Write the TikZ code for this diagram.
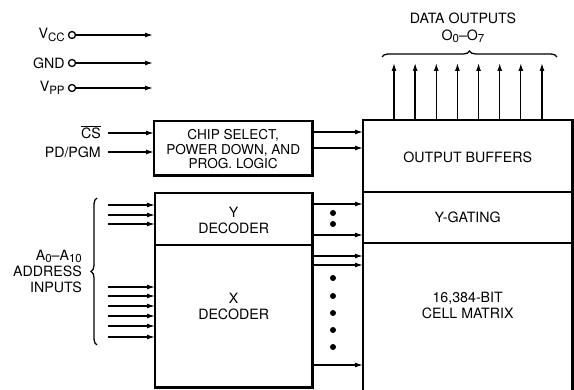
\documentclass[tikz,border=0pt]{standalone}
\usepackage{fontspec}
\setmainfont{TeX Gyre Heros}
\usetikzlibrary{arrows.meta,positioning,decorations.pathreplacing}
\newcommand{\lowsub}[1]{\raisebox{-2.5pt}{\fontsize{11.5}{12}\selectfont #1}}
\tikzstyle{blk}=[rectangle,inner sep=0pt,anchor=north west]
\tikzstyle{txt}=[inner sep=0pt,align=center]
\tikzstyle{lbl}=[inner sep=0pt,align=right,anchor=east]
\tikzstyle{frame}=[line width=2.3pt]
\tikzstyle{arr}=[-{Latex[length=8pt,width=5pt]},line width=1.3pt]
\tikzstyle{pinc}=[circle,draw,line width=1.3pt,inner sep=0pt,minimum size=7pt]
\tikzstyle{dotc}=[circle,fill,inner sep=0pt,minimum size=6pt]
\tikzstyle{brc}=[decorate,decoration={brace,amplitude=6pt},line width=1.3pt]

\begin{document}
\begin{tikzpicture}[x=1pt,y=-1pt,font=\fontsize{14.2}{16}\selectfont]
\useasboundingbox (0,0) rectangle (574,390);
% blocks
\node[blk,minimum width=209pt,minimum height=72pt] (outbuf) at (363,120) {};
\node[blk,minimum width=209pt,minimum height=51pt] (ygate) at (363,192) {};
\node[blk,minimum width=209pt,minimum height=157pt] (matrix) at (363,243) {};
\node[blk,minimum width=157pt,minimum height=52pt] (ydec) at (155,193) {};
\node[blk,minimum width=157pt,minimum height=142pt] (xdec) at (155,245) {};
\node[blk,minimum width=158pt,minimum height=54pt] (csl) at (154,121) {};
\draw[frame] (outbuf.north west) rectangle (matrix.south east);
\draw[line width=1.3pt] (ygate.north west) -- (ygate.north east);
\draw[line width=1.3pt] (matrix.north west) -- (matrix.north east);
\draw[frame] (ydec.north west) rectangle (xdec.south east);
\draw[line width=1.3pt] (xdec.north west) -- (xdec.north east);
\draw[frame] (csl.north west) rectangle (csl.south east);
% texts in blocks
\node[txt] (outbuftxt) at ([yshift=-1pt]outbuf.center) {OUTPUT BUFFERS};
\node[txt] (ygatetxt) at (ygate.center) {Y-GATING};
\node[txt] (matrixtxt) at ([yshift=11pt]matrix.north |- xdec.center) {16,384-BIT\\CELL MATRIX};
\node[txt] (ydectxt) at ([yshift=-1pt]ydec.center) {Y\\DECODER};
\node[txt] (xdectxt) at ([yshift=10pt]xdec.center) {X\\DECODER};
\node[txt,font=\fontsize{13.6}{14.5}\selectfont] (csltxt) at ([yshift=-1pt]csl.center) {CHIP SELECT,\\POWER DOWN, AND\\PROG. LOGIC};
% power pins
\foreach \nm/\lb/\yy in {vcc/V\lowsub{CC}/35,gnd/GND/63,vpp/V\lowsub{PP}/88}{
  \node[pinc] (\nm) at (72,\yy) {};
  \node[lbl,left=3pt of \nm] (\nm lbl) {\lb};
  \coordinate (\nm end) at (153,\yy);
  \draw[arr] (\nm) -- (\nm end);
}
% chip select inputs
\node[lbl] (cslbl) at (101,132) {$\overline{\mbox{CS}}$};
\node[lbl] (pdlbl) at (101,152) {PD/PGM};
\coordinate (csin) at (108,133);
\coordinate (pdin) at (108,152);
\draw[arr] (csin) -- (csin -| csl.west);
\draw[arr] (pdin) -- (pdin -| csl.west);
\coordinate (csout1) at (0,132);
\coordinate (csout2) at (0,148);
\draw[arr] (csout1 -| csl.east) -- (csout1 -| outbuf.west);
\draw[arr] (csout2 -| csl.east) -- (csout2 -| outbuf.west);
% address inputs
\foreach \yy in {205,215,224,287,296,306,316,326,337}{
  \coordinate (a\yy) at (108,\yy);
  \draw[arr] (a\yy) -- (a\yy -| ydec.west);
}
\draw[brc] (97,345) -- (97,198);
\node[lbl,font=\fontsize{14.2}{16}\selectfont] (addrlbl) at (82,271) {A\lowsub{0}–A\lowsub{10}\\ADDRESS\\INPUTS};
% decoder outputs
\foreach \yy in {204,235,256,265,365}{
  \coordinate (d\yy) at (0,\yy);
  \draw[arr] (d\yy -| ydec.east) -- (d\yy -| outbuf.west);
}
\foreach \yy in {213,224,278,296,313,330,347}
  \node[dotc] (dot\yy) at (333,\yy) {};
% data outputs
\foreach \i in {0,...,7}{
  \coordinate (o\i) at (394+21.14*\i,63);
  \draw[arr] (o\i |- outbuf.north) -- (o\i);
}
\draw[brc] (382,57) -- (557,57);
\node[txt] (datalbl) at (463,28) {DATA OUTPUTS\\[1pt]O\lowsub{0}–O\lowsub{7}};
\end{tikzpicture}
\end{document}
